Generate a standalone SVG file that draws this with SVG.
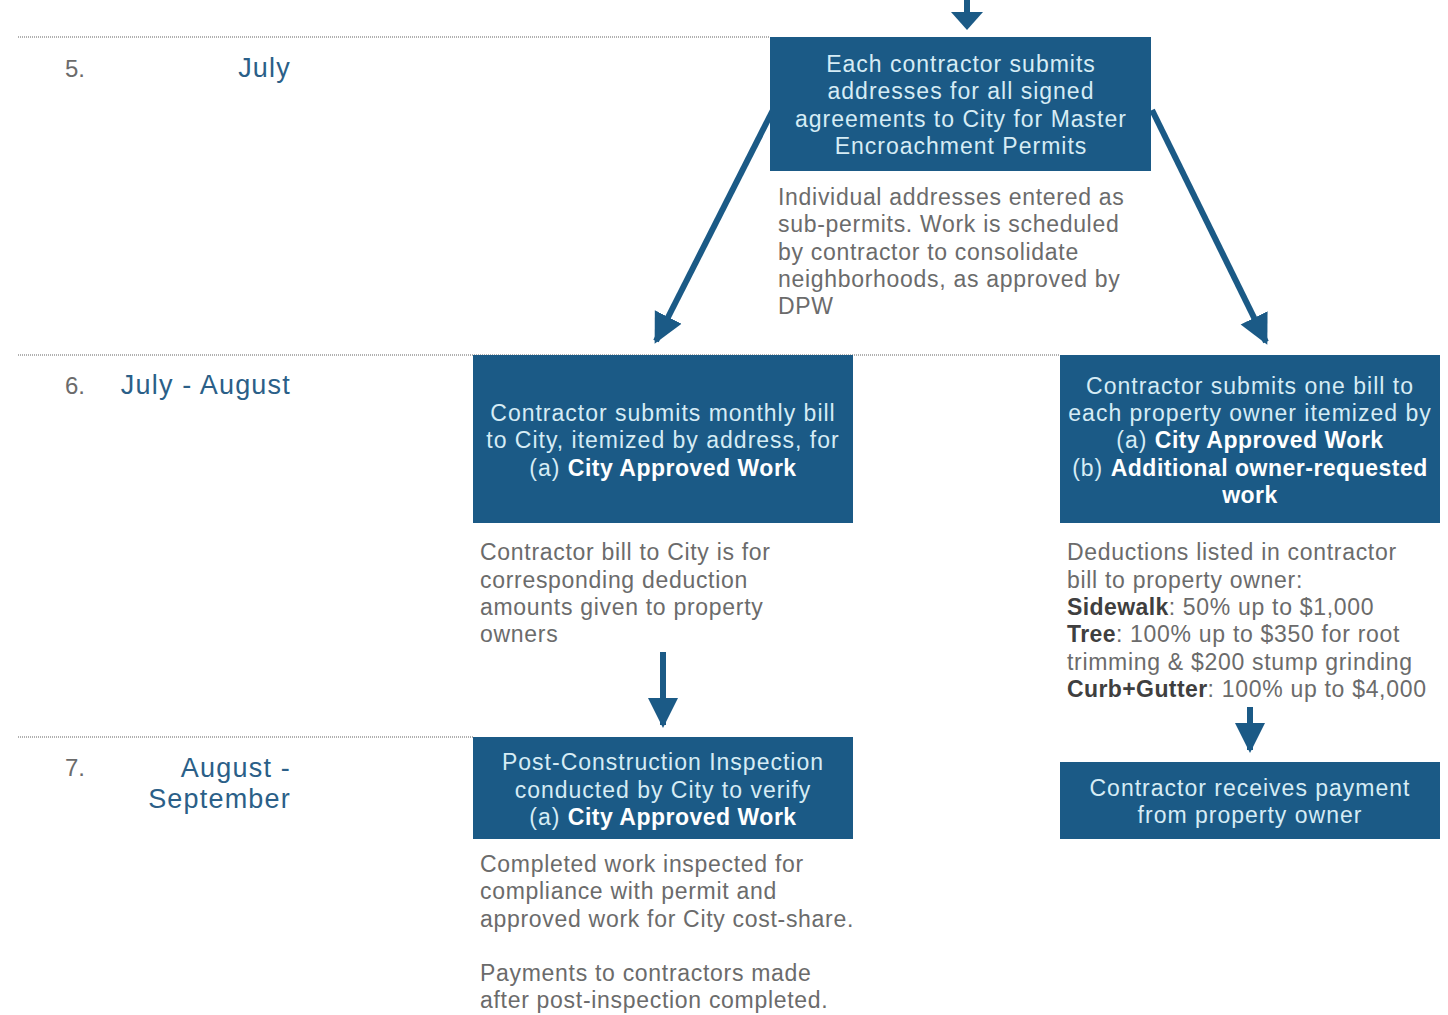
<svg xmlns="http://www.w3.org/2000/svg" width="1448" height="1015" viewBox="0 0 1448 1015">
<style>
.bg{fill:#ffffff}
.sep{stroke:#b0b0b0;stroke-width:2;stroke-dasharray:1 1;fill:none}
.box{fill:#1b5a86}
.bt{font-family:"Liberation Sans",Arial,sans-serif;font-size:23px;letter-spacing:1px;fill:#d6ecf5;text-anchor:middle}
.bt .b{font-weight:bold;fill:#ffffff;letter-spacing:0.5px}
.note{font-family:"Liberation Sans",Arial,sans-serif;font-size:23px;letter-spacing:0.7px;fill:#6b6b6b}
.note .b{font-weight:bold;fill:#3f3f3f;letter-spacing:0.4px}
.num{font-family:"Liberation Sans",Arial,sans-serif;font-size:24px;fill:#6b6b6b}
.mon{font-family:"Liberation Sans",Arial,sans-serif;font-size:27px;letter-spacing:1.2px;fill:#2b5f88}
.conn{stroke:#1b5a86;stroke-width:6;fill:none}
.head{fill:#1b5a86}
</style>
<defs>
<marker id="ah" viewBox="0 0 10 10" refX="9" refY="5" markerWidth="30" markerHeight="36" markerUnits="userSpaceOnUse" orient="auto">
<path d="M0,0 L10,5 L0,10 z" fill="#1b5a86"/>
</marker>
</defs>
<rect class="bg" x="0" y="0" width="1448" height="1015"/>

<g id="separators">
<line class="sep" x1="18" y1="37" x2="770" y2="37"/>
<line class="sep" x1="18" y1="355" x2="1060" y2="355"/>
<line class="sep" x1="18" y1="737" x2="473" y2="737"/>
</g>

<g id="labels">
<text class="num" x="65" y="77">5.</text>
<text class="mon" x="291" y="77" text-anchor="end">July</text>
<text class="num" x="65" y="394">6.</text>
<text class="mon" x="291" y="394" text-anchor="end">July - August</text>
<text class="num" x="65" y="776">7.</text>
<text class="mon" x="291" y="777" text-anchor="end">August -</text>
<text class="mon" x="291" y="808" text-anchor="end">September</text>
</g>

<g id="connectors">
<rect class="head" x="964" y="0" width="6" height="12"/>
<path class="head" d="M951,12 L983,12 L967,30 z"/>
<line class="conn" x1="774" y1="108" x2="656" y2="341" marker-end="url(#ah)"/>
<line class="conn" x1="1152" y1="110" x2="1266" y2="342" marker-end="url(#ah)"/>
<line class="conn" x1="663" y1="652" x2="663" y2="725" marker-end="url(#ah)"/>
<line class="conn" x1="1250" y1="707" x2="1250" y2="750" marker-end="url(#ah)"/>
</g>

<g id="node-permits">
<rect class="box" x="770" y="37" width="381" height="134"/>
<text class="bt" x="961" y="72">Each contractor submits</text>
<text class="bt" x="961" y="99">addresses for all signed</text>
<text class="bt" x="961" y="127">agreements to City for Master</text>
<text class="bt" x="961" y="154">Encroachment Permits</text>
</g>
<g id="note-permits">
<text class="note" x="778" y="205">Individual addresses entered as</text>
<text class="note" x="778" y="232">sub-permits. Work is scheduled</text>
<text class="note" x="778" y="260">by contractor to consolidate</text>
<text class="note" x="778" y="287">neighborhoods, as approved by</text>
<text class="note" x="778" y="314">DPW</text>
</g>

<g id="node-bill-city">
<rect class="box" x="473" y="355" width="380" height="168"/>
<text class="bt" x="663" y="421">Contractor submits monthly bill</text>
<text class="bt" x="663" y="448">to City, itemized by address, for</text>
<text class="bt" x="663" y="476">(a) <tspan class="b">City Approved Work</tspan></text>
</g>
<g id="note-bill-city">
<text class="note" x="480" y="560">Contractor bill to City is for</text>
<text class="note" x="480" y="588">corresponding deduction</text>
<text class="note" x="480" y="615">amounts given to property</text>
<text class="note" x="480" y="642">owners</text>
</g>

<g id="node-bill-owner">
<rect class="box" x="1060" y="355" width="380" height="168"/>
<text class="bt" x="1250" y="394">Contractor submits one bill to</text>
<text class="bt" x="1250" y="421">each property owner itemized by</text>
<text class="bt" x="1250" y="448">(a) <tspan class="b">City Approved Work</tspan></text>
<text class="bt" x="1250" y="476">(b) <tspan class="b">Additional owner-requested</tspan></text>
<text class="bt" x="1250" y="503"><tspan class="b">work</tspan></text>
</g>
<g id="note-bill-owner">
<text class="note" x="1067" y="560">Deductions listed in contractor</text>
<text class="note" x="1067" y="588">bill to property owner:</text>
<text class="note" x="1067" y="615"><tspan class="b">Sidewalk</tspan>: 50% up to $1,000</text>
<text class="note" x="1067" y="642"><tspan class="b">Tree</tspan>: 100% up to $350 for root</text>
<text class="note" x="1067" y="670">trimming &amp; $200 stump grinding</text>
<text class="note" x="1067" y="697"><tspan class="b">Curb+Gutter</tspan>: 100% up to $4,000</text>
</g>

<g id="node-inspection">
<rect class="box" x="473" y="737" width="380" height="102"/>
<text class="bt" x="663" y="770">Post-Construction Inspection</text>
<text class="bt" x="663" y="798">conducted by City to verify</text>
<text class="bt" x="663" y="825">(a) <tspan class="b">City Approved Work</tspan></text>
</g>
<g id="note-inspection">
<text class="note" x="480" y="872">Completed work inspected for</text>
<text class="note" x="480" y="899">compliance with permit and</text>
<text class="note" x="480" y="927">approved work for City cost-share.</text>
<text class="note" x="480" y="981">Payments to contractors made</text>
<text class="note" x="480" y="1008">after post-inspection completed.</text>
</g>

<g id="node-payment">
<rect class="box" x="1060" y="762" width="380" height="77"/>
<text class="bt" x="1250" y="796">Contractor receives payment</text>
<text class="bt" x="1250" y="823">from property owner</text>
</g>
</svg>
